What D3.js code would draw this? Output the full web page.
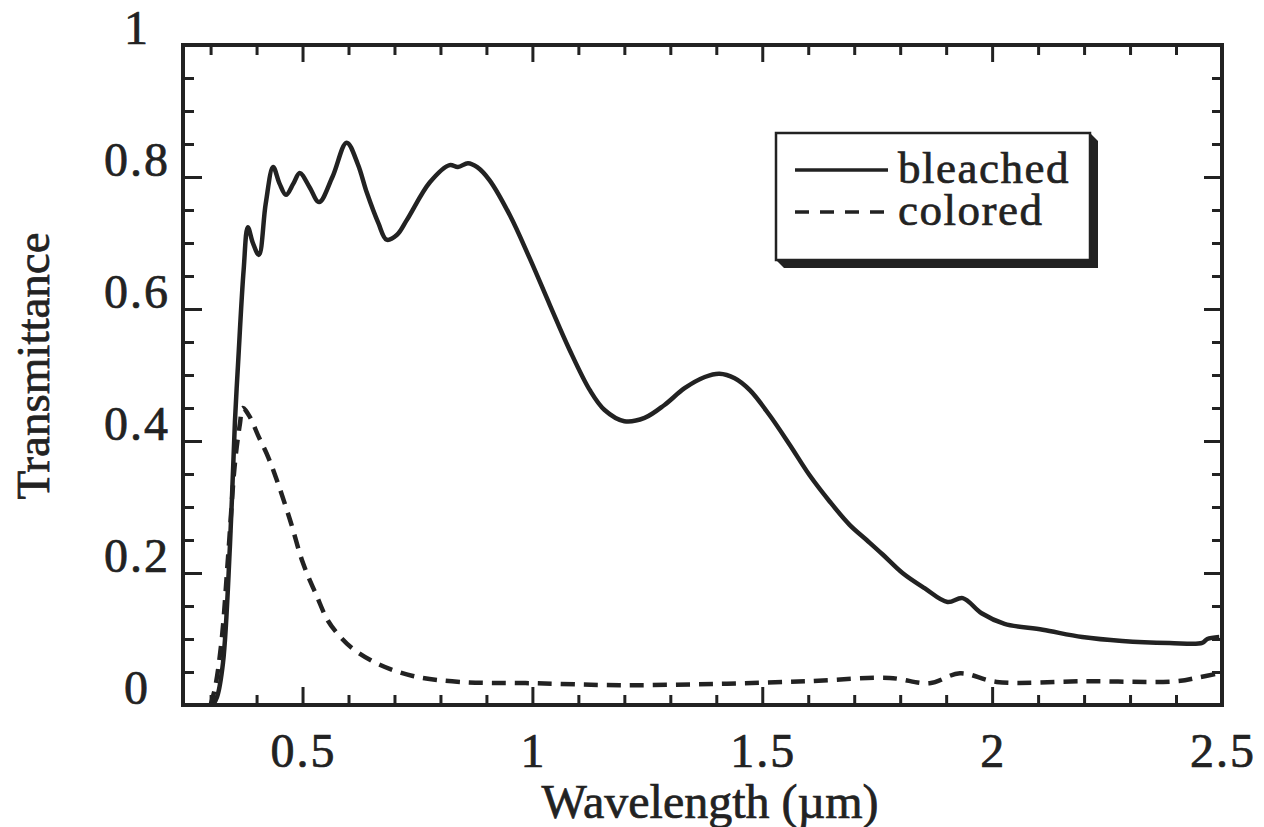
<!DOCTYPE html>
<html>
<head>
<meta charset="utf-8">
<script src="https://cdn.jsdelivr.net/npm/d3@7"></script>
<style>
  body { margin: 0; background: #fff; }
  svg text { font-family: "Liberation Serif", "Times New Roman", serif; fill: #222; stroke: #222; stroke-width: 0.7px; }
</style>
</head>
<body>
<script>
// bleached spectrum (wavelength in um, transmittance)
const bleachedWl = [0.305, 0.314, 0.327, 0.342, 0.353, 0.36, 0.372, 0.381, 0.392, 0.405, 0.42, 0.436, 0.45, 0.464,
  0.48, 0.494, 0.515, 0.536, 0.565, 0.596, 0.62, 0.64, 0.665, 0.683, 0.705, 0.727, 0.777, 0.82, 0.838, 0.86,
  0.88, 0.907, 0.951, 0.994, 1.038, 1.081, 1.125, 1.157, 1.2, 1.244, 1.288, 1.331, 1.375, 1.407, 1.44, 1.473,
  1.516, 1.56, 1.603, 1.647, 1.69, 1.727, 1.762, 1.805, 1.853, 1.903, 1.936, 1.977, 2.027, 2.11, 2.196, 2.283,
  2.386, 2.457, 2.468, 2.494];
const bleachedT = [0.0, 0.012, 0.064, 0.24, 0.43, 0.52, 0.66, 0.724, 0.70, 0.682, 0.76, 0.815, 0.79, 0.773,
  0.79, 0.806, 0.785, 0.762, 0.80, 0.852, 0.82, 0.776, 0.73, 0.705, 0.712, 0.735, 0.792, 0.818, 0.815, 0.821,
  0.815, 0.795, 0.742, 0.677, 0.606, 0.538, 0.477, 0.447, 0.43, 0.435, 0.455, 0.48, 0.497, 0.502, 0.495, 0.477,
  0.439, 0.394, 0.348, 0.308, 0.273, 0.25, 0.228, 0.2, 0.177, 0.156, 0.162, 0.139, 0.123, 0.114, 0.103, 0.097,
  0.094, 0.094, 0.1, 0.103];

// colored spectrum
const coloredWl = [0.30, 0.31, 0.324, 0.338, 0.353, 0.364, 0.37, 0.385, 0.403, 0.425, 0.444, 0.473, 0.501, 0.531,
  0.555, 0.58, 0.61, 0.668, 0.74, 0.842, 1.0, 1.19, 1.4, 1.6, 1.777, 1.864, 1.93, 2.01, 2.2, 2.4, 2.45, 2.494];
const coloredT = [0.0, 0.027, 0.098, 0.224, 0.367, 0.427, 0.45, 0.437, 0.409, 0.376, 0.341, 0.28, 0.215, 0.165,
  0.128, 0.105, 0.085, 0.061, 0.044, 0.035, 0.033, 0.03, 0.032, 0.036, 0.041, 0.033, 0.048, 0.035, 0.036, 0.036, 0.042, 0.048];

const xMajor = [0.5, 1, 1.5, 2, 2.5];
const xMinor = [0.3, 0.4, 0.6, 0.7, 0.8, 0.9, 1.1, 1.2, 1.3, 1.4, 1.6, 1.7, 1.8, 1.9, 2.1, 2.2, 2.3, 2.4];
const xLabels = ["0.5", "1", "1.5", "2", "2.5"];
const yMajor = [0, 0.2, 0.4, 0.6, 0.8, 1];
const yMinor = [0.05, 0.1, 0.15, 0.25, 0.3, 0.35, 0.45, 0.5, 0.55, 0.65, 0.7, 0.75, 0.85, 0.9, 0.95];
const yLabels = ["0", "0.2", "0.4", "0.6", "0.8", "1"];
const seriesNames = ["bleached", "colored"];

const W = 1264, H = 827;
const margin = { top: 45, right: 42, bottom: 122, left: 183 };
const ink = "#222";

const svg = d3.select("body").append("svg")
  .attr("width", W)
  .attr("height", H);

const x = d3.scaleLinear().domain([0.24, 2.5]).range([margin.left, W - margin.right]);
const y = d3.scaleLinear().domain([0, 1]).range([H - margin.bottom, margin.top]);

// curves
const line = d3.line()
  .x(d => x(d[0]))
  .y(d => y(d[1]))
  .curve(d3.curveCatmullRom.alpha(0.5));

svg.append("path")
  .datum(bleachedWl.map((w, i) => [w, bleachedT[i]]))
  .attr("d", line)
  .attr("fill", "none")
  .attr("stroke", ink)
  .attr("stroke-width", 4.5)
  .attr("stroke-linejoin", "round");

svg.append("path")
  .datum(coloredWl.map((w, i) => [w, coloredT[i]]))
  .attr("d", line)
  .attr("fill", "none")
  .attr("stroke", ink)
  .attr("stroke-width", 4.5)
  .attr("stroke-dasharray", "14,9");

// ticks on all four sides, pointing inward
function ticks(axisFn, scale, vals, len, translate) {
  const g = svg.append("g")
    .attr("transform", translate)
    .call(axisFn(scale).tickValues(vals).tickSize(-len).tickFormat(""));
  g.select(".domain").remove();
  g.selectAll("line").attr("stroke", ink).attr("stroke-width", 3);
}
const x0 = margin.left, x1 = W - margin.right, y0 = H - margin.bottom, y1 = margin.top;
ticks(d3.axisBottom, x, xMinor, 10, `translate(0,${y0})`);
ticks(d3.axisBottom, x, xMajor, 18, `translate(0,${y0})`);
ticks(d3.axisTop, x, xMinor, 10, `translate(0,${y1})`);
ticks(d3.axisTop, x, xMajor, 17, `translate(0,${y1})`);
ticks(d3.axisLeft, y, yMinor, 11, `translate(${x0},0)`);
ticks(d3.axisLeft, y, yMajor, 19, `translate(${x0},0)`);
ticks(d3.axisRight, y, yMinor, 10, `translate(${x1},0)`);
ticks(d3.axisRight, y, yMajor, 18, `translate(${x1},0)`);

// frame
svg.append("rect")
  .attr("x", x0).attr("y", y1)
  .attr("width", x1 - x0).attr("height", y0 - y1)
  .attr("fill", "none")
  .attr("stroke", ink)
  .attr("stroke-width", 4);

// tick labels
svg.append("g").selectAll("text")
  .data(xMajor)
  .join("text")
  .attr("x", d => x(d) + 1)
  .attr("y", y0 + 62)
  .attr("text-anchor", "middle")
  .style("font-size", "48px")
  .style("letter-spacing", "2px")
  .text((d, i) => xLabels[i]);

svg.append("g").selectAll("text")
  .data(yMajor)
  .join("text")
  .attr("x", 137)
  .attr("y", d => y(d) - 1)
  .attr("text-anchor", "middle")
  .style("font-size", "48px")
  .style("letter-spacing", "2px")
  .text((d, i) => yLabels[i]);

// axis titles
svg.append("text")
  .attr("x", 710)
  .attr("y", 818)
  .attr("text-anchor", "middle")
  .style("font-size", "48px")
  .text("Wavelength (\u00b5m)");

svg.append("text")
  .attr("transform", "translate(49,366) rotate(-90)")
  .attr("text-anchor", "middle")
  .style("font-size", "47px")
  .text("Transmittance");

// legend with drop shadow
const lg = { x: 776, y: 133, w: 314, h: 127, d: 8 };
svg.append("polygon")
  .attr("points", [
    [lg.x, lg.y + lg.h], [lg.x + lg.d, lg.y + lg.h + lg.d],
    [lg.x + lg.w + lg.d, lg.y + lg.h + lg.d], [lg.x + lg.w + lg.d, lg.y + lg.d],
    [lg.x + lg.w, lg.y]
  ].map(p => p.join(",")).join(" "))
  .attr("fill", ink);
svg.append("rect")
  .attr("x", lg.x).attr("y", lg.y)
  .attr("width", lg.w).attr("height", lg.h)
  .attr("fill", "#fff")
  .attr("stroke", ink)
  .attr("stroke-width", 2.5);

seriesNames.forEach((name, i) => {
  const ly = 170 + i * 42;
  svg.append("line")
    .attr("x1", 795).attr("x2", 888)
    .attr("y1", ly).attr("y2", ly)
    .attr("stroke", ink)
    .attr("stroke-width", 3.5)
    .attr("stroke-dasharray", i === 1 ? "14,11" : null);
});

// legend labels as one text block with two lines
svg.append("text")
  .attr("x", 898)
  .attr("y", 183)
  .style("font-size", "45px")
  .style("letter-spacing", "1.5px")
  .selectAll("tspan")
  .data(seriesNames)
  .join("tspan")
  .attr("x", 898)
  .attr("dy", (d, i) => i === 0 ? 0 : 42)
  .text(d => d);
</script>
</body>
</html>
